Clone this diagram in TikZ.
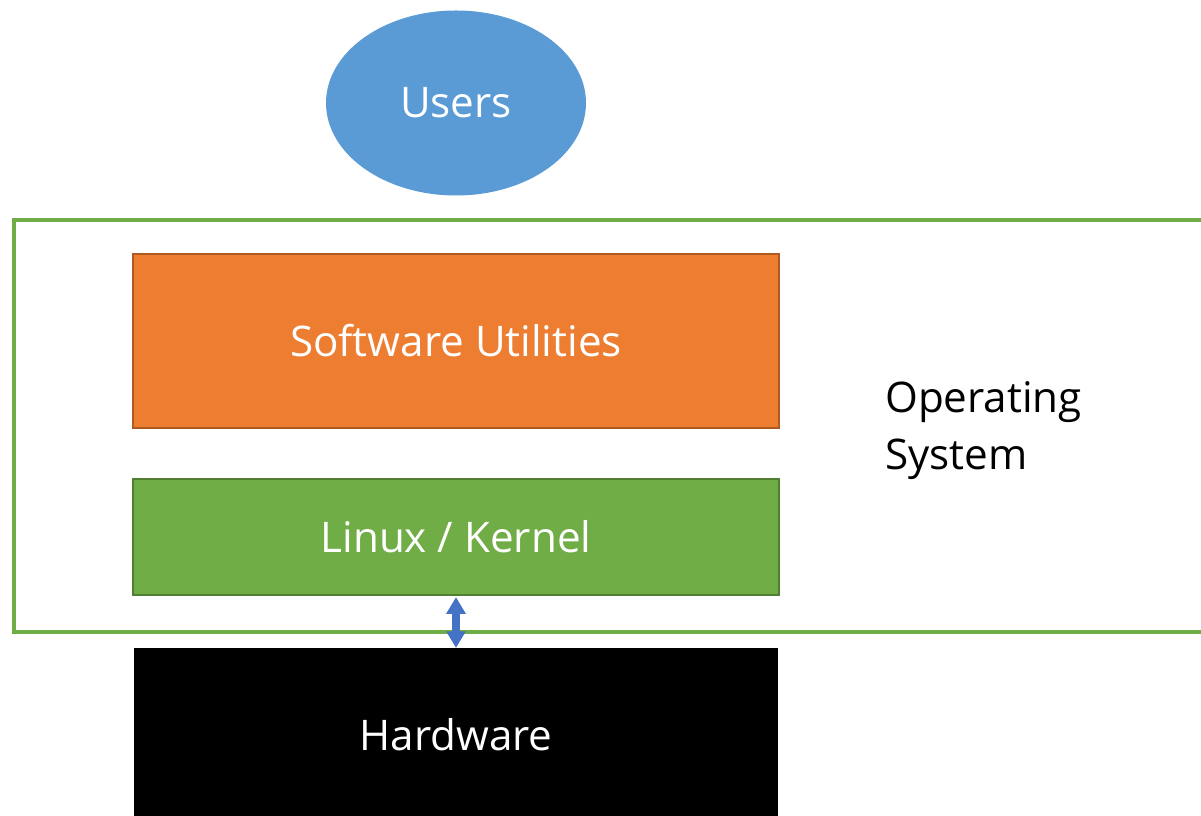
\documentclass[tikz,border=0pt]{standalone}
\usepackage{fontspec}
\setmainfont{Open Sans}
\usetikzlibrary{positioning,arrows.meta,shapes.geometric}
\definecolor{palBlue}{HTML}{5B9BD5}
\definecolor{palArrow}{HTML}{4472C4}
\definecolor{palOrange}{HTML}{ED7D31}
\definecolor{palOrangeDk}{HTML}{AE5A21}
\definecolor{palGreen}{HTML}{70AD47}
\definecolor{palGreenDk}{HTML}{507E32}
\tikzset{
  layerbox/.style={draw, line width=1.2pt, minimum width=12.92cm,
                   font=\fontsize{24}{26}\selectfont, text=white, inner sep=0pt},
  usernode/.style={ellipse, fill=palBlue, minimum width=5.2cm,
                   minimum height=3.7cm, font=\fontsize{24}{26}\selectfont,
                   text=white},
  osframe/.style={draw=palGreen, line width=1.8pt},
  linkarrow/.style={{Triangle[length=9.5pt,width=10.5pt]}-{Triangle[length=9.5pt,width=10.5pt]},
                    line width=4pt, palArrow},
}
\begin{document}
\begin{tikzpicture}
\useasboundingbox (0,0) rectangle (24.02,-16.32);
\clip (0,0) rectangle (24.02,-16.32);

%% Operating system frame
\draw[osframe] (0.28,-4.40) rectangle (24.6,-12.64);
\node[font=\fontsize{24}{32.5}\selectfont, align=left, anchor=west] (os) at (17.58,-8.62) {Operating\\System};

%% Users
\node[usernode] (users) at (9.12,-2.06) {Users};

%% Layers
\node[layerbox, fill=palOrange, draw=palOrangeDk, minimum height=3.48cm] (util) at (9.12,-6.82) {Software Utilities};
\node[layerbox, fill=palGreen, draw=palGreenDk, minimum height=2.32cm] (kernel) at (9.12,-10.74) {Linux / Kernel};
\node[layerbox, fill=black, draw=black, minimum width=12.84cm, minimum height=3.6cm] (hw) at (9.12,-14.78) {};
\node[font=\fontsize{24}{26}\selectfont, text=white] (hwlabel) at (9.12,-14.7) {Hardware};

%% Kernel <-> hardware
\draw[linkarrow] (kernel.south) ++(0,-0.02) coordinate (k) (k) -- (hw.north);
\end{tikzpicture}
\end{document}
